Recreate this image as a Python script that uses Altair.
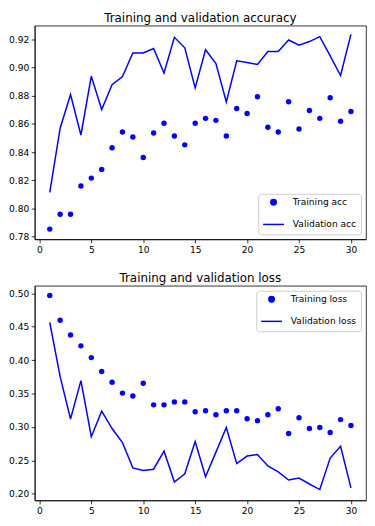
import altair as alt
import pandas as pd

epochs = list(range(1, 31))

train_acc = [0.7853, 0.7958, 0.7958, 0.8159, 0.8215, 0.8277, 0.8430, 0.8542, 0.8507, 0.8361,
             0.8535, 0.8604, 0.8514, 0.8451, 0.8604, 0.8639, 0.8625, 0.8514, 0.8709, 0.8674,
             0.8792, 0.8576, 0.8542, 0.8757, 0.8563, 0.8695, 0.8639, 0.8785, 0.8618, 0.8688]
val_acc = [0.8113, 0.8569, 0.8808, 0.8521, 0.8938, 0.8702, 0.8878, 0.8936, 0.9103, 0.9103,
           0.9135, 0.8961, 0.9214, 0.9140, 0.8855, 0.9126, 0.9028, 0.8755, 0.9047, 0.9035,
           0.9022, 0.9114, 0.9114, 0.9195, 0.9158, 0.9184, 0.9219, 0.9082, 0.8943, 0.9235]
train_loss = [0.4966, 0.4597, 0.4376, 0.4214, 0.4038, 0.3831, 0.3669, 0.3507, 0.3463, 0.3655,
              0.3331, 0.3331, 0.3375, 0.3375, 0.3227, 0.3242, 0.3183, 0.3242, 0.3242, 0.3124,
              0.3095, 0.3183, 0.3272, 0.2903, 0.3139, 0.2977, 0.2992, 0.2918, 0.3110, 0.3021]
val_loss = [0.4563, 0.3753, 0.3119, 0.3694, 0.2854, 0.3237, 0.2977, 0.2766, 0.2388, 0.2349,
            0.2368, 0.2638, 0.2177, 0.2300, 0.2781, 0.2255, 0.2624, 0.2992, 0.2452, 0.2565,
            0.2589, 0.2417, 0.2329, 0.2206, 0.2236, 0.2147, 0.2064, 0.2535, 0.2712, 0.2088]

x_ticks = [0, 5, 10, 15, 20, 25, 30]
acc_ticks = [0.78, 0.80, 0.82, 0.84, 0.86, 0.88, 0.90, 0.92]
loss_ticks = [0.20, 0.25, 0.30, 0.35, 0.40, 0.45, 0.50]

BLUE = "#0000ff"
FONT = "DejaVu Sans"
LABEL_SIZE = 9.2


def panel(train, val, tname, vname, title, yticks, ydomain, orient, h):
    df = pd.DataFrame({
        "epoch": epochs + epochs,
        "value": train + val,
        "series": [tname] * len(epochs) + [vname] * len(epochs),
    })
    x = alt.X("epoch:Q", scale=alt.Scale(domain=[-0.45, 31.45], nice=False, zero=False),
              axis=alt.Axis(values=x_ticks, format="d", title=None))
    y = alt.Y("value:Q", scale=alt.Scale(domain=ydomain, nice=False, zero=False),
              axis=alt.Axis(values=yticks, format=".2f", title=None))
    legend = alt.Legend(title=None, orient=orient, offset=5, padding=4, rowPadding=4.5,
                        labelOffset=8, symbolStrokeWidth=1.5, symbolStrokeColor=BLUE,
                        symbolFillColor=BLUE,
                        cornerRadius=3, strokeColor="#cccccc",
                        fillColor="rgba(255,255,255,0.8)", labelFontSize=LABEL_SIZE,
                        labelFont=FONT, labelColor="#000000")
    dom = [tname, vname]
    color = alt.Color("series:N", scale=alt.Scale(domain=dom, range=[BLUE, BLUE]), legend=legend)
    shape = alt.Shape("series:N", scale=alt.Scale(domain=dom, range=["circle", "stroke"]), legend=legend)
    size = alt.Size("series:N", scale=alt.Scale(domain=dom, range=[30, 441]), legend=legend)
    base = alt.Chart(df)
    pts = base.transform_filter(alt.datum.series == tname).mark_point(
        filled=True, opacity=1).encode(x=x, y=y, color=color, shape=shape, size=size)
    line = base.transform_filter(alt.datum.series == vname).mark_line(
        strokeWidth=1.5).encode(x=x, y=y, color=color)
    return alt.layer(pts, line).properties(
        width=335, height=h,
        title=alt.TitleParams(title, fontSize=12, font=FONT, fontWeight="normal",
                              color="#000000", offset=1))


top = panel(train_acc, val_acc, "Training acc", "Validation acc",
            "Training and validation accuracy", acc_ticks, [0.7781, 0.9297], "bottom-right", 216)
bottom = panel(train_loss, val_loss, "Training loss", "Validation loss",
               "Training and validation loss", loss_ticks, [0.1902, 0.5113], "top-right", 217)

chart = alt.vconcat(top, bottom, spacing=16, padding=0).resolve_scale(
    color="independent", shape="independent", size="independent"
).resolve_legend(
    color="independent", shape="independent", size="independent"
).configure_view(
    stroke="#000000", strokeWidth=0.8
).configure_axis(
    grid=False, labelFont=FONT, labelFontSize=LABEL_SIZE, labelColor="#000000",
    tickColor="#000000", tickSize=3.5, tickWidth=0.8, domainColor="#000000",
    domainWidth=0.8, labelPadding=2.5
)

chart.save("out.html", embed_options={"renderer": "svg", "actions": False})
